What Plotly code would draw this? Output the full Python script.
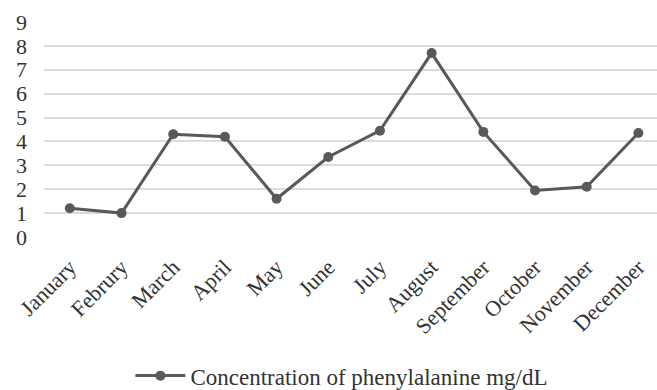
import plotly.graph_objects as go

months = ["January", "Februry", "March", "April", "May", "June", "July",
          "August", "September", "October", "November", "December"]
phe = [1.2, 1.0, 4.3, 4.2, 1.6, 3.35, 4.45, 7.7, 4.4, 1.95, 2.1, 4.35]
y_ticks = list(range(0, 10))

line_col = "#595959"
grid_col = "#dcdcdc"
font_fam = "Liberation Serif, Times New Roman, serif"

fig = go.Figure()
fig.add_trace(go.Scatter(
    x=months, y=phe, mode="lines+markers",
    name="Concentration of phenylalanine mg/dL",
    line=dict(color=line_col, width=3),
    marker=dict(color=line_col, size=10),
))

fig.update_layout(
    width=657, height=390,
    margin=dict(l=44, r=0, t=22, b=153, autoexpand=False),
    paper_bgcolor="white", plot_bgcolor="white",
    font=dict(family=font_fam, size=22, color="#333333"),
    showlegend=True,
    legend=dict(orientation="h", x=0.486, xanchor="center", y=-0.745, yanchor="bottom",
                font=dict(size=23), itemwidth=50, borderwidth=0),
    xaxis=dict(type="category", range=[-0.5, 11.36], tickangle=-45,
               showgrid=False, showline=False, ticks="", automargin=False,
               ticklabelstandoff=12, tickfont=dict(size=22)),
    yaxis=dict(range=[0, 9], tickvals=y_ticks, showgrid=True, gridcolor=grid_col,
               gridwidth=2, zeroline=False, showline=False, ticks="", automargin=False,
               ticklabelstandoff=16, tickfont=dict(size=22)),
)

fig.write_html("out.html")
